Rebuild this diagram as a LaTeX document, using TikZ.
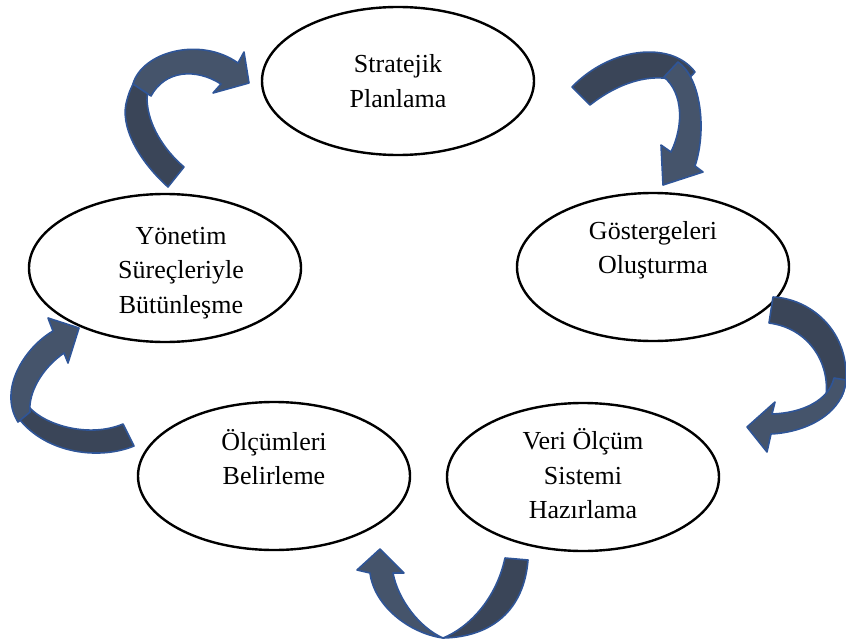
\documentclass[tikz,border=0pt]{standalone}
\usepackage{fontspec}
\setmainfont{Liberation Serif}
\usetikzlibrary{shapes.geometric}
\definecolor{arrowdark}{RGB}{58,69,88}
\definecolor{arrowlight}{RGB}{69,84,107}
\definecolor{arrowedge}{RGB}{47,85,151}
\tikzset{
  stage/.style={ellipse, draw=black, line width=2.4pt,
    minimum width=272pt, minimum height=148pt, inner sep=0pt},
  stagetext/.style={align=center, inner sep=0pt,
    font=\fontsize{26}{34.5}\selectfont},
  bandback/.style={fill=arrowdark, draw=arrowedge, line width=1.6pt, line join=round},
  bandfront/.style={fill=arrowlight, draw=arrowedge, line width=1.6pt, line join=round},
}
\begin{document}
\begin{tikzpicture}[x=1pt, y=-1pt]
\useasboundingbox (0,0) rectangle (846,642);

% the five stages of the cycle
\node[stage] (plan)  at (398,81)  {};
\node[stage] (ind)   at (653,267) {};
\node[stage] (sys)   at (583,477) {};
\node[stage] (meas)  at (274,476) {};
\node[stage] (integ) at (165,268) {};

\node[stagetext] (plant)  at (plan.center)  {Stratejik\\Planlama};
\node[stagetext] (indt)   at ([yshift=17pt]ind.center)  {Göstergeleri\\Oluşturma};
\node[stagetext] (syst)   at ([yshift=3pt]sys.center)   {Veri Ölçüm\\Sistemi\\Hazırlama};
\node[stagetext] (meast)  at ([yshift=19pt]meas.center)  {Ölçümleri\\Belirleme};
\node[stagetext] (integt) at ([xshift=16pt,yshift=-5pt]integ.center) {Yönetim\\Süreçleriyle\\Bütünleşme};

% curved arrow: integration -> strategic planning
\path[bandback] (168,187) .. controls (138,160) and (119,125) .. (127,100)
  .. controls (130,88) and (135,80) .. (140,74) -- (152,82)
  .. controls (148,90) and (147,95) .. (147,100)
  .. controls (148,125) and (164,150) .. (184,167) -- cycle;
\path[bandfront] (133,84) .. controls (142,52) and (200,36) .. (238,63)
  -- (244,52) -- (249,83) -- (213,93) -- (221,84)
  .. controls (196,68) and (165,70) .. (151,96) -- cycle;

% curved arrow: strategic planning -> indicators
\path[bandback] (572,87) .. controls (600,58) and (640,46) .. (670,55)
  .. controls (680,58) and (689,64) .. (695,72) -- (684,84)
  .. controls (665,73) and (628,75) .. (590,105) -- cycle;
\path[bandfront] (678,62) .. controls (701,78) and (707,130) .. (695,166)
  -- (703,172) -- (663,185) -- (661,145) -- (671,152)
  .. controls (684,125) and (683,93) .. (664,77) -- cycle;

% curved arrow: indicators -> data measurement system
\path[bandback] (773,297) .. controls (811,299) and (846,330) .. (846,375)
  .. controls (846,385) and (844,392) .. (841,398) -- (826,396)
  .. controls (830,362) and (808,328) .. (769,323) -- cycle;
\path[bandfront] (846,380) .. controls (844,411) and (810,432) .. (771,434)
  -- (767,452) -- (747,427) -- (775,402) -- (772,414)
  .. controls (803,413) and (829,400) .. (834,378) -- cycle;

% curved arrow: data measurement system -> measurements
\path[bandback] (505,558) -- (528,560) .. controls (524,610) and (492,637) .. (443,638)
  .. controls (468,628) and (496,600) .. (505,558) -- cycle;
\path[bandfront] (443,638) .. controls (408,633) and (374,605) .. (370,573)
  -- (357,570) -- (380,549) -- (404,573) -- (393,573)
  .. controls (398,600) and (420,628) .. (443,638) -- cycle;

% curved arrow: measurements -> integration
\path[bandback] (134,446) .. controls (100,460) and (48,454) .. (20,420) -- (28,406)
  .. controls (45,426) and (90,438) .. (123,424) -- cycle;
\path[bandfront] (18,422) .. controls (-2,390) and (24,348) .. (53,331)
  -- (48,318) -- (79,328) -- (68,363) -- (64,353)
  .. controls (42,368) and (28,393) .. (30,412) -- cycle;
\end{tikzpicture}
\end{document}
